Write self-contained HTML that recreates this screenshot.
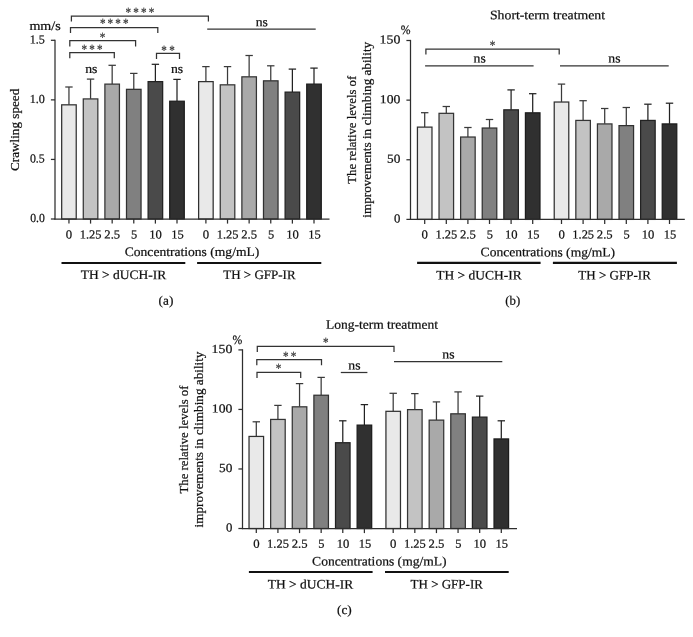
<!DOCTYPE html>
<html lang="en">
<head>
<meta charset="utf-8">
<title>Figure: crawling speed and climbing ability</title>
<style>
html,body{margin:0;padding:0;background:#fff;}
body{width:693px;height:637px;overflow:hidden;}
svg{display:block;}
svg text{font-family:"Liberation Serif", serif;}
</style>
</head>
<body>
<svg width="693" height="637" viewBox="0 0 693 637">
<rect x="0" y="0" width="693" height="637" fill="#ffffff"/>
<g>
<line x1="68.95" y1="87.00" x2="68.95" y2="104.70" stroke="#3a3a3a" stroke-width="1.25" stroke-linecap="butt"/>
<line x1="65.25" y1="87.00" x2="72.65" y2="87.00" stroke="#3a3a3a" stroke-width="1.25" stroke-linecap="butt"/>
<rect x="61.68" y="104.83" width="14.55" height="114.17" fill="#e9e9e9" stroke="#303030" stroke-width="1.25"/>
<line x1="90.56" y1="79.10" x2="90.56" y2="98.80" stroke="#3a3a3a" stroke-width="1.25" stroke-linecap="butt"/>
<line x1="86.86" y1="79.10" x2="94.26" y2="79.10" stroke="#3a3a3a" stroke-width="1.25" stroke-linecap="butt"/>
<rect x="83.28" y="98.92" width="14.55" height="120.08" fill="#c3c3c3" stroke="#343434" stroke-width="1.25"/>
<line x1="112.17" y1="65.30" x2="112.17" y2="84.00" stroke="#3a3a3a" stroke-width="1.25" stroke-linecap="butt"/>
<line x1="108.47" y1="65.30" x2="115.87" y2="65.30" stroke="#3a3a3a" stroke-width="1.25" stroke-linecap="butt"/>
<rect x="104.89" y="84.12" width="14.55" height="134.88" fill="#a9a9a9" stroke="#343434" stroke-width="1.25"/>
<line x1="133.78" y1="73.40" x2="133.78" y2="89.20" stroke="#3a3a3a" stroke-width="1.25" stroke-linecap="butt"/>
<line x1="130.08" y1="73.40" x2="137.48" y2="73.40" stroke="#3a3a3a" stroke-width="1.25" stroke-linecap="butt"/>
<rect x="126.50" y="89.33" width="14.55" height="129.68" fill="#808080" stroke="#303030" stroke-width="1.25"/>
<line x1="155.39" y1="64.30" x2="155.39" y2="81.50" stroke="#222222" stroke-width="1.25" stroke-linecap="butt"/>
<line x1="151.69" y1="64.30" x2="159.09" y2="64.30" stroke="#222222" stroke-width="1.25" stroke-linecap="butt"/>
<rect x="148.11" y="81.62" width="14.55" height="137.38" fill="#4a4a4a" stroke="#222222" stroke-width="1.25"/>
<line x1="177.00" y1="79.40" x2="177.00" y2="101.10" stroke="#222222" stroke-width="1.25" stroke-linecap="butt"/>
<line x1="173.30" y1="79.40" x2="180.70" y2="79.40" stroke="#222222" stroke-width="1.25" stroke-linecap="butt"/>
<rect x="169.72" y="101.22" width="14.55" height="117.78" fill="#303030" stroke="#1c1c1c" stroke-width="1.25"/>
<line x1="205.90" y1="66.60" x2="205.90" y2="81.50" stroke="#3a3a3a" stroke-width="1.25" stroke-linecap="butt"/>
<line x1="202.20" y1="66.60" x2="209.60" y2="66.60" stroke="#3a3a3a" stroke-width="1.25" stroke-linecap="butt"/>
<rect x="198.62" y="81.62" width="14.55" height="137.38" fill="#e9e9e9" stroke="#303030" stroke-width="1.25"/>
<line x1="227.52" y1="66.60" x2="227.52" y2="84.70" stroke="#3a3a3a" stroke-width="1.25" stroke-linecap="butt"/>
<line x1="223.82" y1="66.60" x2="231.22" y2="66.60" stroke="#3a3a3a" stroke-width="1.25" stroke-linecap="butt"/>
<rect x="220.25" y="84.83" width="14.55" height="134.18" fill="#c3c3c3" stroke="#343434" stroke-width="1.25"/>
<line x1="249.14" y1="55.50" x2="249.14" y2="76.70" stroke="#3a3a3a" stroke-width="1.25" stroke-linecap="butt"/>
<line x1="245.44" y1="55.50" x2="252.84" y2="55.50" stroke="#3a3a3a" stroke-width="1.25" stroke-linecap="butt"/>
<rect x="241.87" y="76.83" width="14.55" height="142.18" fill="#a9a9a9" stroke="#343434" stroke-width="1.25"/>
<line x1="270.76" y1="65.80" x2="270.76" y2="80.70" stroke="#3a3a3a" stroke-width="1.25" stroke-linecap="butt"/>
<line x1="267.06" y1="65.80" x2="274.46" y2="65.80" stroke="#3a3a3a" stroke-width="1.25" stroke-linecap="butt"/>
<rect x="263.49" y="80.83" width="14.55" height="138.18" fill="#808080" stroke="#303030" stroke-width="1.25"/>
<line x1="292.38" y1="69.10" x2="292.38" y2="92.00" stroke="#222222" stroke-width="1.25" stroke-linecap="butt"/>
<line x1="288.68" y1="69.10" x2="296.08" y2="69.10" stroke="#222222" stroke-width="1.25" stroke-linecap="butt"/>
<rect x="285.11" y="92.12" width="14.55" height="126.88" fill="#4a4a4a" stroke="#222222" stroke-width="1.25"/>
<line x1="314.00" y1="68.10" x2="314.00" y2="84.00" stroke="#222222" stroke-width="1.25" stroke-linecap="butt"/>
<line x1="310.30" y1="68.10" x2="317.70" y2="68.10" stroke="#222222" stroke-width="1.25" stroke-linecap="butt"/>
<rect x="306.73" y="84.12" width="14.55" height="134.88" fill="#303030" stroke="#1c1c1c" stroke-width="1.25"/>
<line x1="55.00" y1="39.67" x2="55.00" y2="219.62" stroke="#2e2e2e" stroke-width="1.25" stroke-linecap="butt"/>
<line x1="54.38" y1="219.00" x2="329.50" y2="219.00" stroke="#2e2e2e" stroke-width="1.25" stroke-linecap="butt"/>
<line x1="50.90" y1="219.00" x2="55.00" y2="219.00" stroke="#2e2e2e" stroke-width="1.25" stroke-linecap="butt"/>
<text x="30.16" y="222.10" font-size="12.3" textLength="14.59" lengthAdjust="spacingAndGlyphs" transform="rotate(0.03 30.16 222.10)" fill="#101010" stroke="#101010" stroke-width="0.22">0.0</text>
<line x1="50.90" y1="159.43" x2="55.00" y2="159.43" stroke="#2e2e2e" stroke-width="1.25" stroke-linecap="butt"/>
<text x="29.95" y="162.53" font-size="12.3" textLength="14.81" lengthAdjust="spacingAndGlyphs" transform="rotate(0.03 29.95 162.53)" fill="#101010" stroke="#101010" stroke-width="0.22">0.5</text>
<line x1="50.90" y1="99.87" x2="55.00" y2="99.87" stroke="#2e2e2e" stroke-width="1.25" stroke-linecap="butt"/>
<text x="29.64" y="102.97" font-size="12.3" textLength="15.12" lengthAdjust="spacingAndGlyphs" transform="rotate(0.03 29.64 102.97)" fill="#101010" stroke="#101010" stroke-width="0.22">1.0</text>
<line x1="50.90" y1="40.30" x2="55.00" y2="40.30" stroke="#2e2e2e" stroke-width="1.25" stroke-linecap="butt"/>
<text x="29.64" y="43.40" font-size="12.3" textLength="15.14" lengthAdjust="spacingAndGlyphs" transform="rotate(0.03 29.64 43.40)" fill="#101010" stroke="#101010" stroke-width="0.22">1.5</text>
<line x1="68.95" y1="219.00" x2="68.95" y2="223.60" stroke="#2e2e2e" stroke-width="1.25" stroke-linecap="butt"/>
<text x="65.86" y="238.40" font-size="12.3" textLength="6.37" lengthAdjust="spacingAndGlyphs" transform="rotate(0.03 65.86 238.40)" fill="#101010" stroke="#101010" stroke-width="0.22">0</text>
<line x1="90.56" y1="219.00" x2="90.56" y2="223.60" stroke="#2e2e2e" stroke-width="1.25" stroke-linecap="butt"/>
<text x="79.77" y="238.40" font-size="12.3" textLength="21.78" lengthAdjust="spacingAndGlyphs" transform="rotate(0.03 79.77 238.40)" fill="#101010" stroke="#101010" stroke-width="0.22">1.25</text>
<line x1="112.17" y1="219.00" x2="112.17" y2="223.60" stroke="#2e2e2e" stroke-width="1.25" stroke-linecap="butt"/>
<text x="104.31" y="238.40" font-size="12.3" textLength="15.85" lengthAdjust="spacingAndGlyphs" transform="rotate(0.03 104.31 238.40)" fill="#101010" stroke="#101010" stroke-width="0.22">2.5</text>
<line x1="133.78" y1="219.00" x2="133.78" y2="223.60" stroke="#2e2e2e" stroke-width="1.25" stroke-linecap="butt"/>
<text x="130.96" y="238.40" font-size="12.3" textLength="6.21" lengthAdjust="spacingAndGlyphs" transform="rotate(0.03 130.96 238.40)" fill="#101010" stroke="#101010" stroke-width="0.22">5</text>
<line x1="155.39" y1="219.00" x2="155.39" y2="223.60" stroke="#2e2e2e" stroke-width="1.25" stroke-linecap="butt"/>
<text x="149.28" y="238.40" font-size="12.3" textLength="12.59" lengthAdjust="spacingAndGlyphs" transform="rotate(0.03 149.28 238.40)" fill="#101010" stroke="#101010" stroke-width="0.22">10</text>
<line x1="177.00" y1="219.00" x2="177.00" y2="223.60" stroke="#2e2e2e" stroke-width="1.25" stroke-linecap="butt"/>
<text x="171.25" y="238.40" font-size="12.3" textLength="12.49" lengthAdjust="spacingAndGlyphs" transform="rotate(0.03 171.25 238.40)" fill="#101010" stroke="#101010" stroke-width="0.22">15</text>
<line x1="205.90" y1="219.00" x2="205.90" y2="223.60" stroke="#2e2e2e" stroke-width="1.25" stroke-linecap="butt"/>
<text x="202.81" y="238.40" font-size="12.3" textLength="6.37" lengthAdjust="spacingAndGlyphs" transform="rotate(0.03 202.81 238.40)" fill="#101010" stroke="#101010" stroke-width="0.22">0</text>
<line x1="227.52" y1="219.00" x2="227.52" y2="223.60" stroke="#2e2e2e" stroke-width="1.25" stroke-linecap="butt"/>
<text x="216.73" y="238.40" font-size="12.3" textLength="21.78" lengthAdjust="spacingAndGlyphs" transform="rotate(0.03 216.73 238.40)" fill="#101010" stroke="#101010" stroke-width="0.22">1.25</text>
<line x1="249.14" y1="219.00" x2="249.14" y2="223.60" stroke="#2e2e2e" stroke-width="1.25" stroke-linecap="butt"/>
<text x="241.28" y="238.40" font-size="12.3" textLength="15.85" lengthAdjust="spacingAndGlyphs" transform="rotate(0.03 241.28 238.40)" fill="#101010" stroke="#101010" stroke-width="0.22">2.5</text>
<line x1="270.76" y1="219.00" x2="270.76" y2="223.60" stroke="#2e2e2e" stroke-width="1.25" stroke-linecap="butt"/>
<text x="267.94" y="238.40" font-size="12.3" textLength="6.21" lengthAdjust="spacingAndGlyphs" transform="rotate(0.03 267.94 238.40)" fill="#101010" stroke="#101010" stroke-width="0.22">5</text>
<line x1="292.38" y1="219.00" x2="292.38" y2="223.60" stroke="#2e2e2e" stroke-width="1.25" stroke-linecap="butt"/>
<text x="286.27" y="238.40" font-size="12.3" textLength="12.59" lengthAdjust="spacingAndGlyphs" transform="rotate(0.03 286.27 238.40)" fill="#101010" stroke="#101010" stroke-width="0.22">10</text>
<line x1="314.00" y1="219.00" x2="314.00" y2="223.60" stroke="#2e2e2e" stroke-width="1.25" stroke-linecap="butt"/>
<text x="308.25" y="238.40" font-size="12.3" textLength="12.49" lengthAdjust="spacingAndGlyphs" transform="rotate(0.03 308.25 238.40)" fill="#101010" stroke="#101010" stroke-width="0.22">15</text>
<text x="29.40" y="29.90" font-size="13.0" textLength="31.30" lengthAdjust="spacingAndGlyphs" transform="rotate(0.03 29.40 29.90)" fill="#101010" stroke="#101010" stroke-width="0.22">mm/s</text>
<text x="124.74" y="255.95" font-size="13.0" textLength="134.55" lengthAdjust="spacingAndGlyphs" transform="rotate(0.03 124.74 255.95)" fill="#101010" stroke="#101010" stroke-width="0.22">Concentrations (mg/mL)</text>
<line x1="61.50" y1="263.05" x2="185.30" y2="263.05" stroke="#111" stroke-width="2.1" stroke-linecap="butt"/>
<line x1="197.10" y1="263.05" x2="321.30" y2="263.05" stroke="#111" stroke-width="2.1" stroke-linecap="butt"/>
<text x="80.66" y="279.10" font-size="13.0" textLength="85.56" lengthAdjust="spacingAndGlyphs" transform="rotate(0.03 80.66 279.10)" fill="#101010" stroke="#101010" stroke-width="0.22">TH &gt; dUCH-IR</text>
<text x="223.27" y="279.10" font-size="13.0" textLength="72.35" lengthAdjust="spacingAndGlyphs" transform="rotate(0.03 223.27 279.10)" fill="#101010" stroke="#101010" stroke-width="0.22">TH &gt; GFP-IR</text>
<text x="158.62" y="304.70" font-size="13.0" textLength="14.77" lengthAdjust="spacingAndGlyphs" transform="rotate(0.03 158.62 304.70)" fill="#101010" stroke="#101010" stroke-width="0.22">(a)</text>
<text x="19.40" y="170.94" font-size="13.0" textLength="82.20" lengthAdjust="spacingAndGlyphs" transform="rotate(-90 19.40 170.94)" fill="#101010" stroke="#101010" stroke-width="0.22">Crawling speed</text>
<polyline points="71.40,21.60 71.40,16.00 208.40,16.00 208.40,21.60" fill="none" stroke="#333333" stroke-width="1.25" stroke-linejoin="miter"/>
<polyline points="70.50,33.00 70.50,27.50 157.80,27.50 157.80,33.00" fill="none" stroke="#333333" stroke-width="1.25" stroke-linejoin="miter"/>
<polyline points="69.80,46.40 69.80,40.50 135.60,40.50 135.60,46.40" fill="none" stroke="#333333" stroke-width="1.25" stroke-linejoin="miter"/>
<polyline points="69.80,58.30 69.80,52.70 114.30,52.70 114.30,58.30" fill="none" stroke="#333333" stroke-width="1.25" stroke-linejoin="miter"/>
<polyline points="156.50,59.00 156.50,53.40 179.50,53.40 179.50,59.00" fill="none" stroke="#333333" stroke-width="1.25" stroke-linejoin="miter"/>
<line x1="207.20" y1="29.00" x2="315.70" y2="29.00" stroke="#333333" stroke-width="1.25" stroke-linecap="butt"/>
<text transform="translate(139.90 16.90) rotate(0.03) scale(0.79 1)" x="-18.13 -8.38 1.37 11.11" y="0" font-size="14" fill="#3c3c3c" stroke="#3c3c3c" stroke-width="0.25">****</text>
<text transform="translate(114.20 28.30) rotate(0.03) scale(0.79 1)" x="-18.13 -8.38 1.37 11.11" y="0" font-size="14" fill="#3c3c3c" stroke="#3c3c3c" stroke-width="0.25">****</text>
<text transform="translate(102.60 41.90) rotate(0.03) scale(0.79 1)" x="-3.51" y="0" font-size="14" fill="#3c3c3c" stroke="#3c3c3c" stroke-width="0.25">*</text>
<text transform="translate(92.00 53.70) rotate(0.03) scale(0.79 1)" x="-13.25 -3.51 6.24" y="0" font-size="14" fill="#3c3c3c" stroke="#3c3c3c" stroke-width="0.25">***</text>
<text transform="translate(168.00 54.60) rotate(0.03) scale(0.79 1)" x="-8.63 1.62" y="0" font-size="14" fill="#3c3c3c" stroke="#3c3c3c" stroke-width="0.25">**</text>
<text x="85.18" y="73.00" font-size="13.0" textLength="12.21" lengthAdjust="spacingAndGlyphs" transform="rotate(0.03 85.18 73.00)" fill="#101010" stroke="#101010" stroke-width="0.22">ns</text>
<text x="170.98" y="73.00" font-size="13.0" textLength="12.21" lengthAdjust="spacingAndGlyphs" transform="rotate(0.03 170.98 73.00)" fill="#101010" stroke="#101010" stroke-width="0.22">ns</text>
<text x="255.68" y="26.20" font-size="13.0" textLength="12.21" lengthAdjust="spacingAndGlyphs" transform="rotate(0.03 255.68 26.20)" fill="#101010" stroke="#101010" stroke-width="0.22">ns</text>
</g>
<g>
<line x1="424.70" y1="112.70" x2="424.70" y2="127.00" stroke="#3a3a3a" stroke-width="1.25" stroke-linecap="butt"/>
<line x1="421.00" y1="112.70" x2="428.40" y2="112.70" stroke="#3a3a3a" stroke-width="1.25" stroke-linecap="butt"/>
<rect x="417.43" y="127.12" width="14.55" height="92.28" fill="#e9e9e9" stroke="#303030" stroke-width="1.25"/>
<line x1="446.30" y1="106.50" x2="446.30" y2="113.20" stroke="#3a3a3a" stroke-width="1.25" stroke-linecap="butt"/>
<line x1="442.60" y1="106.50" x2="450.00" y2="106.50" stroke="#3a3a3a" stroke-width="1.25" stroke-linecap="butt"/>
<rect x="439.03" y="113.33" width="14.55" height="106.08" fill="#c3c3c3" stroke="#343434" stroke-width="1.25"/>
<line x1="467.90" y1="127.50" x2="467.90" y2="136.90" stroke="#3a3a3a" stroke-width="1.25" stroke-linecap="butt"/>
<line x1="464.20" y1="127.50" x2="471.60" y2="127.50" stroke="#3a3a3a" stroke-width="1.25" stroke-linecap="butt"/>
<rect x="460.62" y="137.03" width="14.55" height="82.38" fill="#a9a9a9" stroke="#343434" stroke-width="1.25"/>
<line x1="489.50" y1="119.50" x2="489.50" y2="127.90" stroke="#3a3a3a" stroke-width="1.25" stroke-linecap="butt"/>
<line x1="485.80" y1="119.50" x2="493.20" y2="119.50" stroke="#3a3a3a" stroke-width="1.25" stroke-linecap="butt"/>
<rect x="482.23" y="128.03" width="14.55" height="91.38" fill="#808080" stroke="#303030" stroke-width="1.25"/>
<line x1="511.10" y1="89.90" x2="511.10" y2="109.70" stroke="#222222" stroke-width="1.25" stroke-linecap="butt"/>
<line x1="507.40" y1="89.90" x2="514.80" y2="89.90" stroke="#222222" stroke-width="1.25" stroke-linecap="butt"/>
<rect x="503.83" y="109.83" width="14.55" height="109.58" fill="#4a4a4a" stroke="#222222" stroke-width="1.25"/>
<line x1="532.70" y1="93.70" x2="532.70" y2="112.70" stroke="#222222" stroke-width="1.25" stroke-linecap="butt"/>
<line x1="529.00" y1="93.70" x2="536.40" y2="93.70" stroke="#222222" stroke-width="1.25" stroke-linecap="butt"/>
<rect x="525.43" y="112.83" width="14.55" height="106.58" fill="#303030" stroke="#1c1c1c" stroke-width="1.25"/>
<line x1="561.50" y1="84.10" x2="561.50" y2="101.90" stroke="#3a3a3a" stroke-width="1.25" stroke-linecap="butt"/>
<line x1="557.80" y1="84.10" x2="565.20" y2="84.10" stroke="#3a3a3a" stroke-width="1.25" stroke-linecap="butt"/>
<rect x="554.23" y="102.03" width="14.55" height="117.38" fill="#e9e9e9" stroke="#303030" stroke-width="1.25"/>
<line x1="583.10" y1="100.70" x2="583.10" y2="120.30" stroke="#3a3a3a" stroke-width="1.25" stroke-linecap="butt"/>
<line x1="579.40" y1="100.70" x2="586.80" y2="100.70" stroke="#3a3a3a" stroke-width="1.25" stroke-linecap="butt"/>
<rect x="575.83" y="120.42" width="14.55" height="98.98" fill="#c3c3c3" stroke="#343434" stroke-width="1.25"/>
<line x1="604.70" y1="108.50" x2="604.70" y2="123.80" stroke="#3a3a3a" stroke-width="1.25" stroke-linecap="butt"/>
<line x1="601.00" y1="108.50" x2="608.40" y2="108.50" stroke="#3a3a3a" stroke-width="1.25" stroke-linecap="butt"/>
<rect x="597.43" y="123.92" width="14.55" height="95.48" fill="#a9a9a9" stroke="#343434" stroke-width="1.25"/>
<line x1="626.30" y1="107.50" x2="626.30" y2="125.50" stroke="#3a3a3a" stroke-width="1.25" stroke-linecap="butt"/>
<line x1="622.60" y1="107.50" x2="630.00" y2="107.50" stroke="#3a3a3a" stroke-width="1.25" stroke-linecap="butt"/>
<rect x="619.02" y="125.62" width="14.55" height="93.78" fill="#808080" stroke="#303030" stroke-width="1.25"/>
<line x1="647.90" y1="104.20" x2="647.90" y2="120.30" stroke="#222222" stroke-width="1.25" stroke-linecap="butt"/>
<line x1="644.20" y1="104.20" x2="651.60" y2="104.20" stroke="#222222" stroke-width="1.25" stroke-linecap="butt"/>
<rect x="640.62" y="120.42" width="14.55" height="98.98" fill="#4a4a4a" stroke="#222222" stroke-width="1.25"/>
<line x1="669.50" y1="103.20" x2="669.50" y2="123.80" stroke="#222222" stroke-width="1.25" stroke-linecap="butt"/>
<line x1="665.80" y1="103.20" x2="673.20" y2="103.20" stroke="#222222" stroke-width="1.25" stroke-linecap="butt"/>
<rect x="662.23" y="123.92" width="14.55" height="95.48" fill="#303030" stroke="#1c1c1c" stroke-width="1.25"/>
<line x1="410.50" y1="39.88" x2="410.50" y2="220.03" stroke="#2e2e2e" stroke-width="1.25" stroke-linecap="butt"/>
<line x1="409.88" y1="219.40" x2="684.80" y2="219.40" stroke="#2e2e2e" stroke-width="1.25" stroke-linecap="butt"/>
<line x1="406.40" y1="219.40" x2="410.50" y2="219.40" stroke="#2e2e2e" stroke-width="1.25" stroke-linecap="butt"/>
<text x="393.91" y="222.50" font-size="12.3" textLength="6.37" lengthAdjust="spacingAndGlyphs" transform="rotate(0.03 393.91 222.50)" fill="#101010" stroke="#101010" stroke-width="0.22">0</text>
<line x1="406.40" y1="159.77" x2="410.50" y2="159.77" stroke="#2e2e2e" stroke-width="1.25" stroke-linecap="butt"/>
<text x="387.03" y="162.87" font-size="12.3" textLength="13.28" lengthAdjust="spacingAndGlyphs" transform="rotate(0.03 387.03 162.87)" fill="#101010" stroke="#101010" stroke-width="0.22">50</text>
<line x1="406.40" y1="100.13" x2="410.50" y2="100.13" stroke="#2e2e2e" stroke-width="1.25" stroke-linecap="butt"/>
<text x="379.80" y="103.23" font-size="12.3" textLength="20.52" lengthAdjust="spacingAndGlyphs" transform="rotate(0.03 379.80 103.23)" fill="#101010" stroke="#101010" stroke-width="0.22">100</text>
<line x1="406.40" y1="40.50" x2="410.50" y2="40.50" stroke="#2e2e2e" stroke-width="1.25" stroke-linecap="butt"/>
<text x="379.58" y="43.60" font-size="12.3" textLength="20.74" lengthAdjust="spacingAndGlyphs" transform="rotate(0.03 379.58 43.60)" fill="#101010" stroke="#101010" stroke-width="0.22">150</text>
<line x1="424.70" y1="219.40" x2="424.70" y2="224.00" stroke="#2e2e2e" stroke-width="1.25" stroke-linecap="butt"/>
<text x="421.61" y="238.60" font-size="12.3" textLength="6.37" lengthAdjust="spacingAndGlyphs" transform="rotate(0.03 421.61 238.60)" fill="#101010" stroke="#101010" stroke-width="0.22">0</text>
<line x1="446.30" y1="219.40" x2="446.30" y2="224.00" stroke="#2e2e2e" stroke-width="1.25" stroke-linecap="butt"/>
<text x="435.51" y="238.60" font-size="12.3" textLength="21.78" lengthAdjust="spacingAndGlyphs" transform="rotate(0.03 435.51 238.60)" fill="#101010" stroke="#101010" stroke-width="0.22">1.25</text>
<line x1="467.90" y1="219.40" x2="467.90" y2="224.00" stroke="#2e2e2e" stroke-width="1.25" stroke-linecap="butt"/>
<text x="460.04" y="238.60" font-size="12.3" textLength="15.85" lengthAdjust="spacingAndGlyphs" transform="rotate(0.03 460.04 238.60)" fill="#101010" stroke="#101010" stroke-width="0.22">2.5</text>
<line x1="489.50" y1="219.40" x2="489.50" y2="224.00" stroke="#2e2e2e" stroke-width="1.25" stroke-linecap="butt"/>
<text x="486.68" y="238.60" font-size="12.3" textLength="6.21" lengthAdjust="spacingAndGlyphs" transform="rotate(0.03 486.68 238.60)" fill="#101010" stroke="#101010" stroke-width="0.22">5</text>
<line x1="511.10" y1="219.40" x2="511.10" y2="224.00" stroke="#2e2e2e" stroke-width="1.25" stroke-linecap="butt"/>
<text x="504.99" y="238.60" font-size="12.3" textLength="12.59" lengthAdjust="spacingAndGlyphs" transform="rotate(0.03 504.99 238.60)" fill="#101010" stroke="#101010" stroke-width="0.22">10</text>
<line x1="532.70" y1="219.40" x2="532.70" y2="224.00" stroke="#2e2e2e" stroke-width="1.25" stroke-linecap="butt"/>
<text x="526.95" y="238.60" font-size="12.3" textLength="12.49" lengthAdjust="spacingAndGlyphs" transform="rotate(0.03 526.95 238.60)" fill="#101010" stroke="#101010" stroke-width="0.22">15</text>
<line x1="561.50" y1="219.40" x2="561.50" y2="224.00" stroke="#2e2e2e" stroke-width="1.25" stroke-linecap="butt"/>
<text x="558.41" y="238.60" font-size="12.3" textLength="6.37" lengthAdjust="spacingAndGlyphs" transform="rotate(0.03 558.41 238.60)" fill="#101010" stroke="#101010" stroke-width="0.22">0</text>
<line x1="583.10" y1="219.40" x2="583.10" y2="224.00" stroke="#2e2e2e" stroke-width="1.25" stroke-linecap="butt"/>
<text x="572.31" y="238.60" font-size="12.3" textLength="21.78" lengthAdjust="spacingAndGlyphs" transform="rotate(0.03 572.31 238.60)" fill="#101010" stroke="#101010" stroke-width="0.22">1.25</text>
<line x1="604.70" y1="219.40" x2="604.70" y2="224.00" stroke="#2e2e2e" stroke-width="1.25" stroke-linecap="butt"/>
<text x="596.84" y="238.60" font-size="12.3" textLength="15.85" lengthAdjust="spacingAndGlyphs" transform="rotate(0.03 596.84 238.60)" fill="#101010" stroke="#101010" stroke-width="0.22">2.5</text>
<line x1="626.30" y1="219.40" x2="626.30" y2="224.00" stroke="#2e2e2e" stroke-width="1.25" stroke-linecap="butt"/>
<text x="623.48" y="238.60" font-size="12.3" textLength="6.21" lengthAdjust="spacingAndGlyphs" transform="rotate(0.03 623.48 238.60)" fill="#101010" stroke="#101010" stroke-width="0.22">5</text>
<line x1="647.90" y1="219.40" x2="647.90" y2="224.00" stroke="#2e2e2e" stroke-width="1.25" stroke-linecap="butt"/>
<text x="641.79" y="238.60" font-size="12.3" textLength="12.59" lengthAdjust="spacingAndGlyphs" transform="rotate(0.03 641.79 238.60)" fill="#101010" stroke="#101010" stroke-width="0.22">10</text>
<line x1="669.50" y1="219.40" x2="669.50" y2="224.00" stroke="#2e2e2e" stroke-width="1.25" stroke-linecap="butt"/>
<text x="663.75" y="238.60" font-size="12.3" textLength="12.49" lengthAdjust="spacingAndGlyphs" transform="rotate(0.03 663.75 238.60)" fill="#101010" stroke="#101010" stroke-width="0.22">15</text>
<text x="400.80" y="33.90" font-size="12.8" textLength="9.80" lengthAdjust="spacingAndGlyphs" transform="rotate(0.03 400.80 33.90)" fill="#101010" stroke="#101010" stroke-width="0.22">%</text>
<text x="480.64" y="256.35" font-size="13.0" textLength="134.45" lengthAdjust="spacingAndGlyphs" transform="rotate(0.03 480.64 256.35)" fill="#101010" stroke="#101010" stroke-width="0.22">Concentrations (mg/mL)</text>
<line x1="417.10" y1="262.90" x2="540.60" y2="262.90" stroke="#111" stroke-width="2.1" stroke-linecap="butt"/>
<line x1="552.90" y1="262.90" x2="676.90" y2="262.90" stroke="#111" stroke-width="2.1" stroke-linecap="butt"/>
<text x="436.16" y="279.50" font-size="13.0" textLength="85.46" lengthAdjust="spacingAndGlyphs" transform="rotate(0.03 436.16 279.50)" fill="#101010" stroke="#101010" stroke-width="0.22">TH &gt; dUCH-IR</text>
<text x="578.26" y="279.50" font-size="13.0" textLength="72.66" lengthAdjust="spacingAndGlyphs" transform="rotate(0.03 578.26 279.50)" fill="#101010" stroke="#101010" stroke-width="0.22">TH &gt; GFP-IR</text>
<text x="505.24" y="304.80" font-size="13.0" textLength="14.93" lengthAdjust="spacingAndGlyphs" transform="rotate(0.03 505.24 304.80)" fill="#101010" stroke="#101010" stroke-width="0.22">(b)</text>
<text x="355.90" y="183.73" font-size="13.0" textLength="107.93" lengthAdjust="spacingAndGlyphs" transform="rotate(-90 355.90 183.73)" fill="#101010" stroke="#101010" stroke-width="0.22">The relative levels of</text>
<text x="371.20" y="217.68" font-size="13.0" textLength="175.83" lengthAdjust="spacingAndGlyphs" transform="rotate(-90 371.20 217.68)" fill="#101010" stroke="#101010" stroke-width="0.22">improvements in climbing ability</text>
<text x="489.98" y="19.30" font-size="13.0" textLength="115.00" lengthAdjust="spacingAndGlyphs" transform="rotate(0.03 489.98 19.30)" fill="#101010" stroke="#101010" stroke-width="0.22">Short-term treatment</text>
<polyline points="425.90,54.50 425.90,49.00 559.20,49.00 559.20,54.50" fill="none" stroke="#333333" stroke-width="1.25" stroke-linejoin="miter"/>
<line x1="425.10" y1="65.80" x2="533.60" y2="65.80" stroke="#333333" stroke-width="1.25" stroke-linecap="butt"/>
<line x1="560.00" y1="65.80" x2="668.70" y2="65.80" stroke="#333333" stroke-width="1.25" stroke-linecap="butt"/>
<text transform="translate(492.40 49.80) rotate(0.03) scale(0.79 1)" x="-3.51" y="0" font-size="14" fill="#3c3c3c" stroke="#3c3c3c" stroke-width="0.25">*</text>
<text x="473.58" y="62.40" font-size="13.0" textLength="12.21" lengthAdjust="spacingAndGlyphs" transform="rotate(0.03 473.58 62.40)" fill="#101010" stroke="#101010" stroke-width="0.22">ns</text>
<text x="608.38" y="62.40" font-size="13.0" textLength="12.21" lengthAdjust="spacingAndGlyphs" transform="rotate(0.03 608.38 62.40)" fill="#101010" stroke="#101010" stroke-width="0.22">ns</text>
</g>
<g>
<line x1="256.30" y1="421.80" x2="256.30" y2="436.30" stroke="#3a3a3a" stroke-width="1.25" stroke-linecap="butt"/>
<line x1="252.60" y1="421.80" x2="260.00" y2="421.80" stroke="#3a3a3a" stroke-width="1.25" stroke-linecap="butt"/>
<rect x="249.03" y="436.43" width="14.55" height="92.07" fill="#e9e9e9" stroke="#303030" stroke-width="1.25"/>
<line x1="277.92" y1="405.40" x2="277.92" y2="419.30" stroke="#3a3a3a" stroke-width="1.25" stroke-linecap="butt"/>
<line x1="274.22" y1="405.40" x2="281.62" y2="405.40" stroke="#3a3a3a" stroke-width="1.25" stroke-linecap="butt"/>
<rect x="270.65" y="419.43" width="14.55" height="109.07" fill="#c3c3c3" stroke="#343434" stroke-width="1.25"/>
<line x1="299.54" y1="383.60" x2="299.54" y2="406.70" stroke="#3a3a3a" stroke-width="1.25" stroke-linecap="butt"/>
<line x1="295.84" y1="383.60" x2="303.24" y2="383.60" stroke="#3a3a3a" stroke-width="1.25" stroke-linecap="butt"/>
<rect x="292.27" y="406.82" width="14.55" height="121.68" fill="#a9a9a9" stroke="#343434" stroke-width="1.25"/>
<line x1="321.16" y1="377.40" x2="321.16" y2="395.10" stroke="#3a3a3a" stroke-width="1.25" stroke-linecap="butt"/>
<line x1="317.46" y1="377.40" x2="324.86" y2="377.40" stroke="#3a3a3a" stroke-width="1.25" stroke-linecap="butt"/>
<rect x="313.89" y="395.23" width="14.55" height="133.27" fill="#808080" stroke="#303030" stroke-width="1.25"/>
<line x1="342.78" y1="420.80" x2="342.78" y2="442.60" stroke="#222222" stroke-width="1.25" stroke-linecap="butt"/>
<line x1="339.08" y1="420.80" x2="346.48" y2="420.80" stroke="#222222" stroke-width="1.25" stroke-linecap="butt"/>
<rect x="335.51" y="442.73" width="14.55" height="85.77" fill="#4a4a4a" stroke="#222222" stroke-width="1.25"/>
<line x1="364.40" y1="404.60" x2="364.40" y2="425.00" stroke="#222222" stroke-width="1.25" stroke-linecap="butt"/>
<line x1="360.70" y1="404.60" x2="368.10" y2="404.60" stroke="#222222" stroke-width="1.25" stroke-linecap="butt"/>
<rect x="357.13" y="425.12" width="14.55" height="103.38" fill="#303030" stroke="#1c1c1c" stroke-width="1.25"/>
<line x1="393.20" y1="393.30" x2="393.20" y2="411.20" stroke="#3a3a3a" stroke-width="1.25" stroke-linecap="butt"/>
<line x1="389.50" y1="393.30" x2="396.90" y2="393.30" stroke="#3a3a3a" stroke-width="1.25" stroke-linecap="butt"/>
<rect x="385.93" y="411.32" width="14.55" height="117.18" fill="#e9e9e9" stroke="#303030" stroke-width="1.25"/>
<line x1="414.82" y1="393.60" x2="414.82" y2="409.50" stroke="#3a3a3a" stroke-width="1.25" stroke-linecap="butt"/>
<line x1="411.12" y1="393.60" x2="418.52" y2="393.60" stroke="#3a3a3a" stroke-width="1.25" stroke-linecap="butt"/>
<rect x="407.55" y="409.62" width="14.55" height="118.88" fill="#c3c3c3" stroke="#343434" stroke-width="1.25"/>
<line x1="436.44" y1="401.90" x2="436.44" y2="420.00" stroke="#3a3a3a" stroke-width="1.25" stroke-linecap="butt"/>
<line x1="432.74" y1="401.90" x2="440.14" y2="401.90" stroke="#3a3a3a" stroke-width="1.25" stroke-linecap="butt"/>
<rect x="429.17" y="420.12" width="14.55" height="108.38" fill="#a9a9a9" stroke="#343434" stroke-width="1.25"/>
<line x1="458.06" y1="391.90" x2="458.06" y2="413.70" stroke="#3a3a3a" stroke-width="1.25" stroke-linecap="butt"/>
<line x1="454.36" y1="391.90" x2="461.76" y2="391.90" stroke="#3a3a3a" stroke-width="1.25" stroke-linecap="butt"/>
<rect x="450.79" y="413.82" width="14.55" height="114.68" fill="#808080" stroke="#303030" stroke-width="1.25"/>
<line x1="479.68" y1="396.10" x2="479.68" y2="417.00" stroke="#222222" stroke-width="1.25" stroke-linecap="butt"/>
<line x1="475.98" y1="396.10" x2="483.38" y2="396.10" stroke="#222222" stroke-width="1.25" stroke-linecap="butt"/>
<rect x="472.41" y="417.12" width="14.55" height="111.38" fill="#4a4a4a" stroke="#222222" stroke-width="1.25"/>
<line x1="501.30" y1="420.80" x2="501.30" y2="438.80" stroke="#222222" stroke-width="1.25" stroke-linecap="butt"/>
<line x1="497.60" y1="420.80" x2="505.00" y2="420.80" stroke="#222222" stroke-width="1.25" stroke-linecap="butt"/>
<rect x="494.03" y="438.93" width="14.55" height="89.57" fill="#303030" stroke="#1c1c1c" stroke-width="1.25"/>
<line x1="242.50" y1="349.27" x2="242.50" y2="529.12" stroke="#2e2e2e" stroke-width="1.25" stroke-linecap="butt"/>
<line x1="241.88" y1="528.50" x2="517.00" y2="528.50" stroke="#2e2e2e" stroke-width="1.25" stroke-linecap="butt"/>
<line x1="238.40" y1="528.50" x2="242.50" y2="528.50" stroke="#2e2e2e" stroke-width="1.25" stroke-linecap="butt"/>
<text x="225.91" y="531.60" font-size="12.3" textLength="6.37" lengthAdjust="spacingAndGlyphs" transform="rotate(0.03 225.91 531.60)" fill="#101010" stroke="#101010" stroke-width="0.22">0</text>
<line x1="238.40" y1="468.97" x2="242.50" y2="468.97" stroke="#2e2e2e" stroke-width="1.25" stroke-linecap="butt"/>
<text x="219.03" y="472.07" font-size="12.3" textLength="13.28" lengthAdjust="spacingAndGlyphs" transform="rotate(0.03 219.03 472.07)" fill="#101010" stroke="#101010" stroke-width="0.22">50</text>
<line x1="238.40" y1="409.43" x2="242.50" y2="409.43" stroke="#2e2e2e" stroke-width="1.25" stroke-linecap="butt"/>
<text x="211.80" y="412.53" font-size="12.3" textLength="20.52" lengthAdjust="spacingAndGlyphs" transform="rotate(0.03 211.80 412.53)" fill="#101010" stroke="#101010" stroke-width="0.22">100</text>
<line x1="238.40" y1="349.90" x2="242.50" y2="349.90" stroke="#2e2e2e" stroke-width="1.25" stroke-linecap="butt"/>
<text x="211.58" y="353.00" font-size="12.3" textLength="20.74" lengthAdjust="spacingAndGlyphs" transform="rotate(0.03 211.58 353.00)" fill="#101010" stroke="#101010" stroke-width="0.22">150</text>
<line x1="256.30" y1="528.50" x2="256.30" y2="533.10" stroke="#2e2e2e" stroke-width="1.25" stroke-linecap="butt"/>
<text x="253.21" y="547.70" font-size="12.3" textLength="6.37" lengthAdjust="spacingAndGlyphs" transform="rotate(0.03 253.21 547.70)" fill="#101010" stroke="#101010" stroke-width="0.22">0</text>
<line x1="277.92" y1="528.50" x2="277.92" y2="533.10" stroke="#2e2e2e" stroke-width="1.25" stroke-linecap="butt"/>
<text x="267.13" y="547.70" font-size="12.3" textLength="21.78" lengthAdjust="spacingAndGlyphs" transform="rotate(0.03 267.13 547.70)" fill="#101010" stroke="#101010" stroke-width="0.22">1.25</text>
<line x1="299.54" y1="528.50" x2="299.54" y2="533.10" stroke="#2e2e2e" stroke-width="1.25" stroke-linecap="butt"/>
<text x="291.68" y="547.70" font-size="12.3" textLength="15.85" lengthAdjust="spacingAndGlyphs" transform="rotate(0.03 291.68 547.70)" fill="#101010" stroke="#101010" stroke-width="0.22">2.5</text>
<line x1="321.16" y1="528.50" x2="321.16" y2="533.10" stroke="#2e2e2e" stroke-width="1.25" stroke-linecap="butt"/>
<text x="318.34" y="547.70" font-size="12.3" textLength="6.21" lengthAdjust="spacingAndGlyphs" transform="rotate(0.03 318.34 547.70)" fill="#101010" stroke="#101010" stroke-width="0.22">5</text>
<line x1="342.78" y1="528.50" x2="342.78" y2="533.10" stroke="#2e2e2e" stroke-width="1.25" stroke-linecap="butt"/>
<text x="336.67" y="547.70" font-size="12.3" textLength="12.59" lengthAdjust="spacingAndGlyphs" transform="rotate(0.03 336.67 547.70)" fill="#101010" stroke="#101010" stroke-width="0.22">10</text>
<line x1="364.40" y1="528.50" x2="364.40" y2="533.10" stroke="#2e2e2e" stroke-width="1.25" stroke-linecap="butt"/>
<text x="358.65" y="547.70" font-size="12.3" textLength="12.49" lengthAdjust="spacingAndGlyphs" transform="rotate(0.03 358.65 547.70)" fill="#101010" stroke="#101010" stroke-width="0.22">15</text>
<line x1="393.20" y1="528.50" x2="393.20" y2="533.10" stroke="#2e2e2e" stroke-width="1.25" stroke-linecap="butt"/>
<text x="390.11" y="547.70" font-size="12.3" textLength="6.37" lengthAdjust="spacingAndGlyphs" transform="rotate(0.03 390.11 547.70)" fill="#101010" stroke="#101010" stroke-width="0.22">0</text>
<line x1="414.82" y1="528.50" x2="414.82" y2="533.10" stroke="#2e2e2e" stroke-width="1.25" stroke-linecap="butt"/>
<text x="404.03" y="547.70" font-size="12.3" textLength="21.78" lengthAdjust="spacingAndGlyphs" transform="rotate(0.03 404.03 547.70)" fill="#101010" stroke="#101010" stroke-width="0.22">1.25</text>
<line x1="436.44" y1="528.50" x2="436.44" y2="533.10" stroke="#2e2e2e" stroke-width="1.25" stroke-linecap="butt"/>
<text x="428.58" y="547.70" font-size="12.3" textLength="15.85" lengthAdjust="spacingAndGlyphs" transform="rotate(0.03 428.58 547.70)" fill="#101010" stroke="#101010" stroke-width="0.22">2.5</text>
<line x1="458.06" y1="528.50" x2="458.06" y2="533.10" stroke="#2e2e2e" stroke-width="1.25" stroke-linecap="butt"/>
<text x="455.24" y="547.70" font-size="12.3" textLength="6.21" lengthAdjust="spacingAndGlyphs" transform="rotate(0.03 455.24 547.70)" fill="#101010" stroke="#101010" stroke-width="0.22">5</text>
<line x1="479.68" y1="528.50" x2="479.68" y2="533.10" stroke="#2e2e2e" stroke-width="1.25" stroke-linecap="butt"/>
<text x="473.57" y="547.70" font-size="12.3" textLength="12.59" lengthAdjust="spacingAndGlyphs" transform="rotate(0.03 473.57 547.70)" fill="#101010" stroke="#101010" stroke-width="0.22">10</text>
<line x1="501.30" y1="528.50" x2="501.30" y2="533.10" stroke="#2e2e2e" stroke-width="1.25" stroke-linecap="butt"/>
<text x="495.55" y="547.70" font-size="12.3" textLength="12.49" lengthAdjust="spacingAndGlyphs" transform="rotate(0.03 495.55 547.70)" fill="#101010" stroke="#101010" stroke-width="0.22">15</text>
<text x="232.50" y="343.50" font-size="12.8" textLength="9.80" lengthAdjust="spacingAndGlyphs" transform="rotate(0.03 232.50 343.50)" fill="#101010" stroke="#101010" stroke-width="0.22">%</text>
<text x="312.14" y="565.45" font-size="13.0" textLength="134.45" lengthAdjust="spacingAndGlyphs" transform="rotate(0.03 312.14 565.45)" fill="#101010" stroke="#101010" stroke-width="0.22">Concentrations (mg/mL)</text>
<line x1="248.90" y1="572.00" x2="372.60" y2="572.00" stroke="#111" stroke-width="2.1" stroke-linecap="butt"/>
<line x1="385.00" y1="572.00" x2="508.70" y2="572.00" stroke="#111" stroke-width="2.1" stroke-linecap="butt"/>
<text x="267.76" y="588.60" font-size="13.0" textLength="85.46" lengthAdjust="spacingAndGlyphs" transform="rotate(0.03 267.76 588.60)" fill="#101010" stroke="#101010" stroke-width="0.22">TH &gt; dUCH-IR</text>
<text x="410.57" y="588.60" font-size="13.0" textLength="72.35" lengthAdjust="spacingAndGlyphs" transform="rotate(0.03 410.57 588.60)" fill="#101010" stroke="#101010" stroke-width="0.22">TH &gt; GFP-IR</text>
<text x="337.02" y="614.00" font-size="13.0" textLength="14.77" lengthAdjust="spacingAndGlyphs" transform="rotate(0.03 337.02 614.00)" fill="#101010" stroke="#101010" stroke-width="0.22">(c)</text>
<text x="187.90" y="493.43" font-size="13.0" textLength="107.93" lengthAdjust="spacingAndGlyphs" transform="rotate(-90 187.90 493.43)" fill="#101010" stroke="#101010" stroke-width="0.22">The relative levels of</text>
<text x="203.20" y="527.38" font-size="13.0" textLength="175.83" lengthAdjust="spacingAndGlyphs" transform="rotate(-90 203.20 527.38)" fill="#101010" stroke="#101010" stroke-width="0.22">improvements in climbing ability</text>
<text x="325.91" y="328.80" font-size="13.0" textLength="112.17" lengthAdjust="spacingAndGlyphs" transform="rotate(0.03 325.91 328.80)" fill="#101010" stroke="#101010" stroke-width="0.22">Long-term treatment</text>
<polyline points="257.30,351.95 257.30,346.45 394.00,346.45 394.00,351.95" fill="none" stroke="#333333" stroke-width="1.25" stroke-linejoin="miter"/>
<polyline points="256.80,365.20 256.80,359.60 321.50,359.60 321.50,365.20" fill="none" stroke="#333333" stroke-width="1.25" stroke-linejoin="miter"/>
<polyline points="257.00,378.00 257.00,372.40 300.70,372.40 300.70,378.00" fill="none" stroke="#333333" stroke-width="1.25" stroke-linejoin="miter"/>
<line x1="340.80" y1="372.50" x2="367.40" y2="372.50" stroke="#333333" stroke-width="1.25" stroke-linecap="butt"/>
<line x1="394.00" y1="361.50" x2="502.30" y2="361.50" stroke="#333333" stroke-width="1.25" stroke-linecap="butt"/>
<text transform="translate(325.80 347.20) rotate(0.03) scale(0.79 1)" x="-3.51" y="0" font-size="14" fill="#3c3c3c" stroke="#3c3c3c" stroke-width="0.25">*</text>
<text transform="translate(289.60 361.10) rotate(0.03) scale(0.79 1)" x="-8.38 1.37" y="0" font-size="14" fill="#3c3c3c" stroke="#3c3c3c" stroke-width="0.25">**</text>
<text transform="translate(278.50 373.10) rotate(0.03) scale(0.79 1)" x="-3.51" y="0" font-size="14" fill="#3c3c3c" stroke="#3c3c3c" stroke-width="0.25">*</text>
<text x="348.28" y="369.60" font-size="13.0" textLength="12.21" lengthAdjust="spacingAndGlyphs" transform="rotate(0.03 348.28 369.60)" fill="#101010" stroke="#101010" stroke-width="0.22">ns</text>
<text x="442.28" y="358.40" font-size="13.0" textLength="12.21" lengthAdjust="spacingAndGlyphs" transform="rotate(0.03 442.28 358.40)" fill="#101010" stroke="#101010" stroke-width="0.22">ns</text>
</g>
</svg>
</body>
</html>
